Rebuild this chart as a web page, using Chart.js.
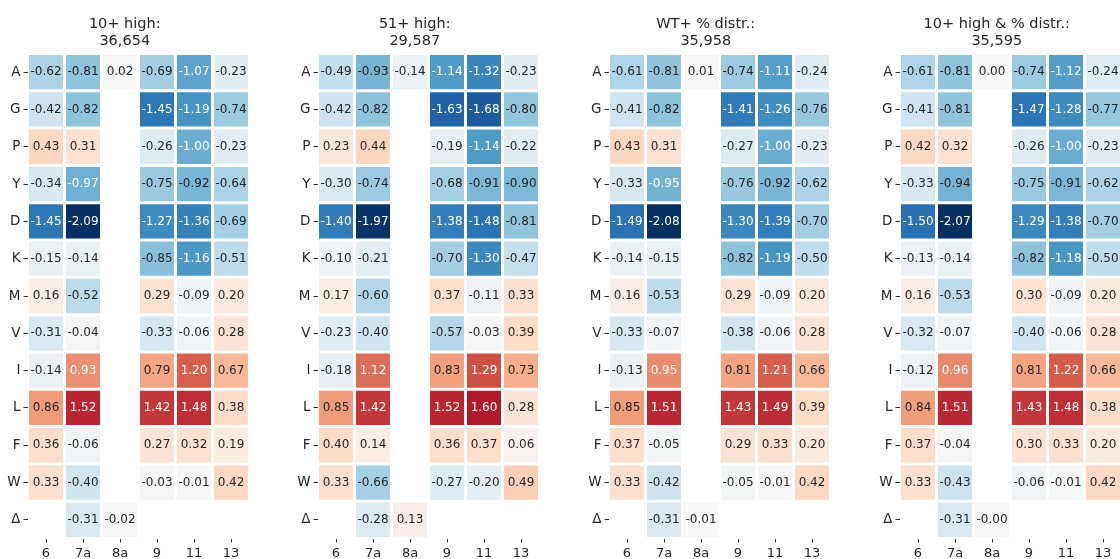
<!DOCTYPE html>
<html>
<head>
<meta charset="utf-8">
<script src="https://cdn.jsdelivr.net/npm/chart.js@4/dist/chart.umd.min.js"></script>
<style>
  html, body { margin: 0; padding: 0; background: #fff; overflow: hidden; }
  #wrap { position: relative; width: 1120px; height: 559px; overflow: hidden; }
  .panel { position: absolute; top: 0; width: 277px; height: 559px; }
</style>
</head>
<body>
<div id="wrap"></div>
<script>
// Residues (rows) and positions (columns)
const rows = ['A', 'G', 'P', 'Y', 'D', 'K', 'M', 'V', 'I', 'L', 'F', 'W', 'Δ'];
const cols = ['6', '7a', '8a', '9', '11', '13'];

const titles = [
  ['10+ high:', '36,654'],
  ['51+ high:', '29,587'],
  ['WT+ % distr.:', '35,958'],
  ['10+ high & % distr.:', '35,595']
];

// Scores per residue (row) and position (column); null = not measured
const high10 = [
  [-0.62, -0.81, 0.02, -0.69, -1.07, -0.23],
  [-0.42, -0.82, null, -1.45, -1.19, -0.74],
  [0.43, 0.31, null, -0.26, -1.00, -0.23],
  [-0.34, -0.97, null, -0.75, -0.92, -0.64],
  [-1.45, -2.09, null, -1.27, -1.36, -0.69],
  [-0.15, -0.14, null, -0.85, -1.16, -0.51],
  [0.16, -0.52, null, 0.29, -0.09, 0.20],
  [-0.31, -0.04, null, -0.33, -0.06, 0.28],
  [-0.14, 0.93, null, 0.79, 1.20, 0.67],
  [0.86, 1.52, null, 1.42, 1.48, 0.38],
  [0.36, -0.06, null, 0.27, 0.32, 0.19],
  [0.33, -0.40, null, -0.03, -0.01, 0.42],
  [null, -0.31, -0.02, null, null, null]
];

const high51 = [
  [-0.49, -0.93, -0.14, -1.14, -1.32, -0.23],
  [-0.42, -0.82, null, -1.63, -1.68, -0.80],
  [0.23, 0.44, null, -0.19, -1.14, -0.22],
  [-0.30, -0.74, null, -0.68, -0.91, -0.90],
  [-1.40, -1.97, null, -1.38, -1.48, -0.81],
  [-0.10, -0.21, null, -0.70, -1.30, -0.47],
  [0.17, -0.60, null, 0.37, -0.11, 0.33],
  [-0.23, -0.40, null, -0.57, -0.03, 0.39],
  [-0.18, 1.12, null, 0.83, 1.29, 0.73],
  [0.85, 1.42, null, 1.52, 1.60, 0.28],
  [0.40, 0.14, null, 0.36, 0.37, 0.06],
  [0.33, -0.66, null, -0.27, -0.20, 0.49],
  [null, -0.28, 0.13, null, null, null]
];

const wtDistr = [
  [-0.61, -0.81, 0.01, -0.74, -1.11, -0.24],
  [-0.41, -0.82, null, -1.41, -1.26, -0.76],
  [0.43, 0.31, null, -0.27, -1.00, -0.23],
  [-0.33, -0.95, null, -0.76, -0.92, -0.62],
  [-1.49, -2.08, null, -1.30, -1.39, -0.70],
  [-0.14, -0.15, null, -0.82, -1.19, -0.50],
  [0.16, -0.53, null, 0.29, -0.09, 0.20],
  [-0.33, -0.07, null, -0.38, -0.06, 0.28],
  [-0.13, 0.95, null, 0.81, 1.21, 0.66],
  [0.85, 1.51, null, 1.43, 1.49, 0.39],
  [0.37, -0.05, null, 0.29, 0.33, 0.20],
  [0.33, -0.42, null, -0.05, -0.01, 0.42],
  [null, -0.31, -0.01, null, null, null]
];

const high10Distr = [
  [-0.61, -0.81, 0.00, -0.74, -1.12, -0.24],
  [-0.41, -0.81, null, -1.47, -1.28, -0.77],
  [0.42, 0.32, null, -0.26, -1.00, -0.23],
  [-0.33, -0.94, null, -0.75, -0.91, -0.62],
  [-1.50, -2.07, null, -1.29, -1.38, -0.70],
  [-0.13, -0.14, null, -0.82, -1.18, -0.50],
  [0.16, -0.53, null, 0.30, -0.09, 0.20],
  [-0.32, -0.07, null, -0.40, -0.06, 0.28],
  [-0.12, 0.96, null, 0.81, 1.22, 0.66],
  [0.84, 1.51, null, 1.43, 1.48, 0.38],
  [0.37, -0.04, null, 0.30, 0.33, 0.20],
  [0.33, -0.43, null, -0.06, -0.01, 0.42],
  [null, -0.31, -0, null, null, null]
];

const panels = [high10, high51, wtDistr, high10Distr];
const panelLeft = [0, 290, 581, 872];

// Diverging colour scale (blue = negative, red = positive), centred on 0
const vmin = -2, vmax = 2;
const rdbuR = [
  [5, 48, 97], [33, 102, 172], [67, 147, 195], [146, 197, 222], [209, 229, 240],
  [247, 247, 247], [253, 219, 199], [244, 165, 130], [214, 96, 77], [178, 24, 43], [103, 0, 31]
];

function cellRGB(v) {
  let t = (v - vmin) / (vmax - vmin);
  t = Math.max(0, Math.min(1, t));
  const p = t * (rdbuR.length - 1);
  const i = Math.min(rdbuR.length - 2, Math.floor(p));
  const f = p - i;
  return rdbuR[i].map((c, k) => c + (rdbuR[i + 1][k] - c) * f);
}
function cellColor(v) {
  const c = cellRGB(v);
  return `rgb(${c[0].toFixed(1)},${c[1].toFixed(1)},${c[2].toFixed(1)})`;
}
function textColor(v) {
  const lin = cellRGB(v).map(c => {
    c /= 255;
    return c <= 0.03928 ? c / 12.92 : Math.pow((c + 0.055) / 1.055, 2.4);
  });
  const lum = 0.2126 * lin[0] + 0.7152 * lin[1] + 0.0722 * lin[2];
  return lum > 0.408 ? '#262626' : '#ffffff';
}
function fmt(v) {
  const neg = v < 0 || Object.is(v, -0);
  return (neg ? '-' : '') + Math.abs(v).toFixed(2);
}

const ink = '#262626';
const font = 'DejaVu Sans';

// Writes each cell's value in its centre
const cellText = vals => ({
  id: 'cellText',
  afterDatasetsDraw(chart) {
    const ctx = chart.ctx;
    ctx.save();
    ctx.font = `12px "${font}"`;
    ctx.textAlign = 'center';
    ctx.textBaseline = 'middle';
    chart.data.datasets.forEach((ds, j) => {
      chart.getDatasetMeta(j).data.forEach((el, i) => {
        const v = vals[i][j];
        if (v === null || v === undefined) return;
        const p = el.getCenterPoint();
        ctx.fillStyle = textColor(v);
        ctx.fillText(fmt(v), p.x, p.y);
      });
    });
    ctx.restore();
  }
});

const wrap = document.getElementById('wrap');

panels.forEach((vals, k) => {
  const div = document.createElement('div');
  div.className = 'panel';
  div.style.left = panelLeft[k] + 'px';
  const cv = document.createElement('canvas');
  cv.width = 277;
  cv.height = 559;
  div.appendChild(cv);
  wrap.appendChild(div);

  new Chart(cv, {
    type: 'bar',
    data: {
      labels: rows,
      datasets: cols.map((c, j) => ({
        label: c,
        data: rows.map((r, i) => (vals[i][j] === null ? null : [j, j + 1])),
        backgroundColor: rows.map((r, i) => (vals[i][j] === null ? 'rgba(0,0,0,0)' : cellColor(vals[i][j]))),
        borderColor: '#ffffff',
        borderWidth: 1.5,
        borderSkipped: false,
        inflateAmount: 0,
        categoryPercentage: 1,
        barPercentage: 1,
        grouped: false
      }))
    },
    options: {
      indexAxis: 'y',
      responsive: false,
      animation: false,
      events: [],
      layout: { padding: { left: 0, right: 27.5, top: 0, bottom: 0 } },
      plugins: {
        legend: { display: false },
        tooltip: { enabled: false },
        title: {
          display: true,
          text: titles[k],
          color: ink,
          font: { family: font, size: 14.5, weight: 'normal', lineHeight: 1.2 },
          padding: { top: 15.3, bottom: 3.4 }
        }
      },
      scales: {
        x: {
          type: 'linear',
          position: 'bottom',
          min: 0,
          max: cols.length,
          afterBuildTicks: s => { s.ticks = cols.map((c, j) => ({ value: j + 0.5 })); },
          afterFit: s => { s.height = 20.5; },
          ticks: {
            autoSkip: false, maxRotation: 0, padding: 3, color: ink,
            font: { family: font, size: 13 },
            callback: (v, idx) => cols[idx]
          },
          grid: { display: true, drawOnChartArea: false, drawTicks: true, tickLength: 4, color: ink, tickWidth: 1 },
          border: { display: false }
        },
        y: {
          type: 'category',
          offset: true,
          afterFit: s => { s.width = 27.5; },
          ticks: { autoSkip: false, padding: 3, color: ink, font: { family: font, size: 13.5 } },
          grid: { display: true, offset: false, drawOnChartArea: false, drawTicks: true, tickLength: 4, color: ink, tickWidth: 1 },
          border: { display: false }
        }
      }
    },
    plugins: [cellText(vals)]
  });
});
</script>
</body>
</html>
